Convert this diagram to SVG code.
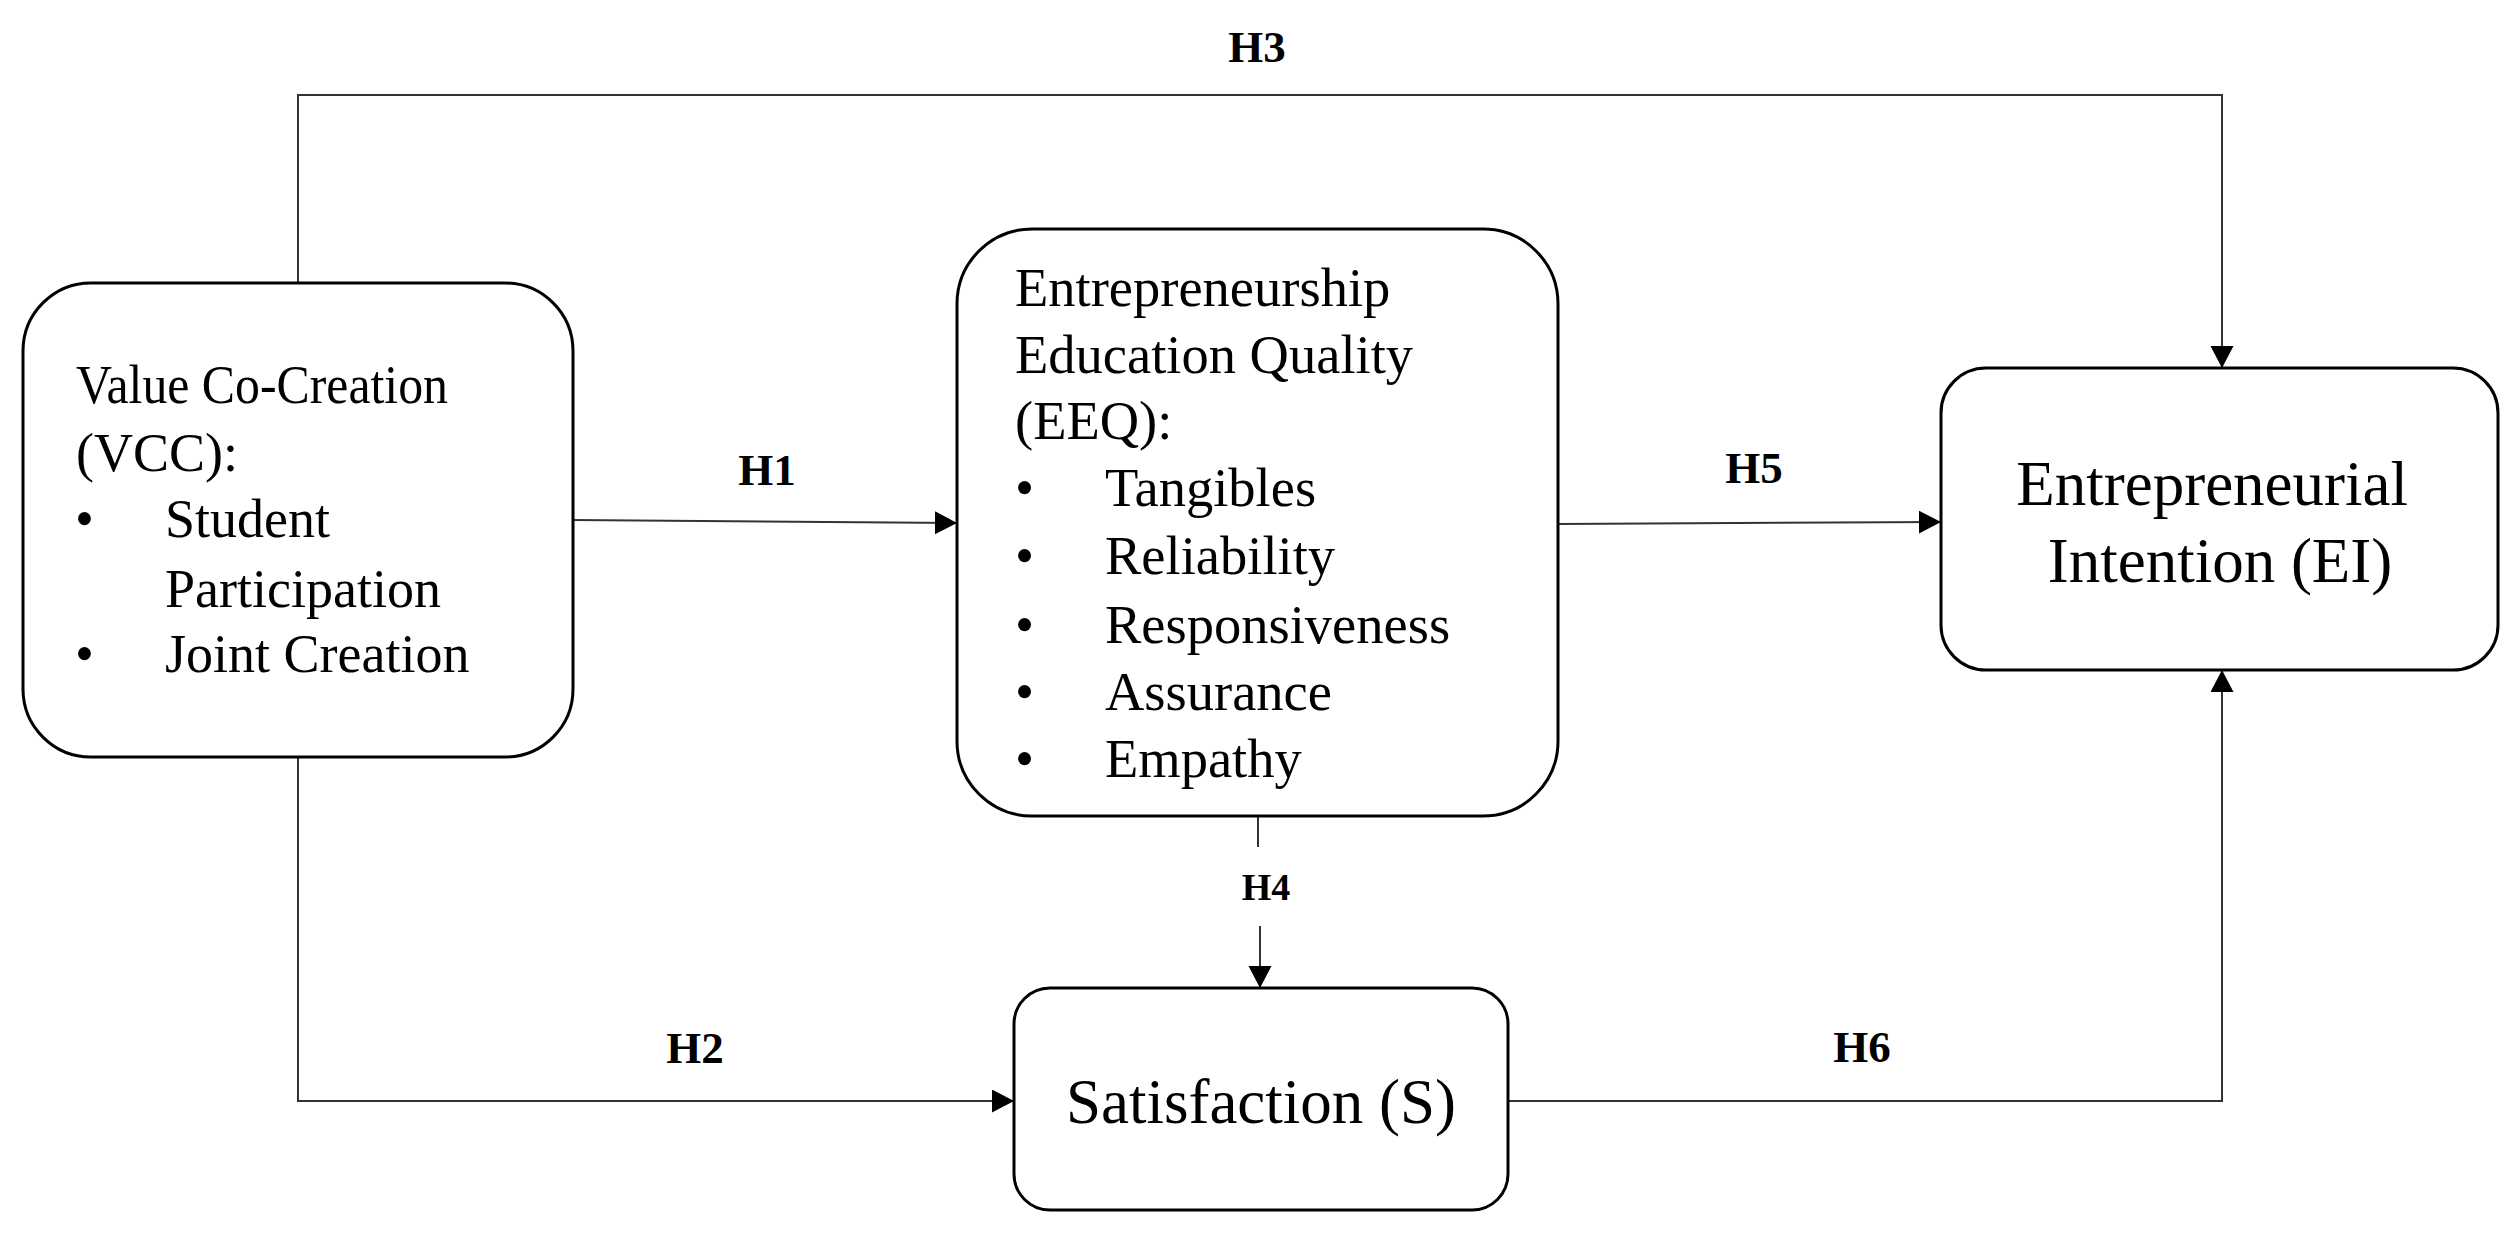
<svg xmlns="http://www.w3.org/2000/svg" width="2517" height="1235" viewBox="0 0 2517 1235">
<style>
.box{fill:#fff;stroke:#000;stroke-width:3}
.t{font-family:"Liberation Serif","Times New Roman",serif;fill:#000}
.lbl{font-family:"Liberation Serif","Times New Roman",serif;font-weight:bold;fill:#000;text-anchor:middle}
.ln{fill:none;stroke:#333;stroke-width:2}
</style>
<defs>
<marker id="ah" markerUnits="userSpaceOnUse" markerWidth="24" markerHeight="24" refX="22" refY="11.5" orient="auto" viewBox="0 0 24 24">
<path d="M0,0 L22,11.5 L0,23 z" fill="#000"/>
</marker>
</defs>
<rect width="2517" height="1235" fill="#fff"/>
<g id="connectors">
<path class="ln" d="M298,283 V95 H2222 V368" marker-end="url(#ah)"/>
<path class="ln" d="M573,520 L957,523" marker-end="url(#ah)"/>
<path class="ln" d="M1558,524 L1941,522" marker-end="url(#ah)"/>
<path class="ln" d="M298,757 V1101 H1014" marker-end="url(#ah)"/>
<path class="ln" d="M1258,816 V847"/>
<path class="ln" d="M1260,926 V988" marker-end="url(#ah)"/>
<path class="ln" d="M1508,1101 H2222 V670" marker-end="url(#ah)"/>
<text class="lbl" x="1257" y="62" font-size="45">H3</text>
<text class="lbl" x="767" y="485" font-size="45">H1</text>
<text class="lbl" x="1754" y="483" font-size="45">H5</text>
<text class="lbl" x="695" y="1063" font-size="45">H2</text>
<text class="lbl" x="1862" y="1062" font-size="45">H6</text>
<text class="lbl" x="1266" y="900" font-size="38">H4</text>
</g>
<g id="vcc">
<rect class="box" x="23" y="283" width="550" height="474" rx="68" ry="68"/>
<text class="t" font-size="54">
<tspan x="76" y="403" textLength="372" lengthAdjust="spacingAndGlyphs">Value Co-Creation</tspan>
<tspan x="76" y="471">(VCC):</tspan>
<tspan x="75" y="537">•</tspan><tspan x="165" y="537">Student</tspan>
<tspan x="165" y="607">Participation</tspan>
<tspan x="75" y="672">•</tspan><tspan x="165" y="672">Joint Creation</tspan>
</text>
</g>
<g id="eeq">
<rect class="box" x="957" y="229" width="601" height="587" rx="75" ry="75"/>
<text class="t" font-size="54.5">
<tspan x="1015" y="306">Entrepreneurship</tspan>
<tspan x="1015" y="373">Education Quality</tspan>
<tspan x="1015" y="439">(EEQ):</tspan>
<tspan x="1015" y="506">•</tspan><tspan x="1105" y="506">Tangibles</tspan>
<tspan x="1015" y="574">•</tspan><tspan x="1105" y="574">Reliability</tspan>
<tspan x="1015" y="643">•</tspan><tspan x="1105" y="643">Responsiveness</tspan>
<tspan x="1015" y="710">•</tspan><tspan x="1105" y="710">Assurance</tspan>
<tspan x="1015" y="777">•</tspan><tspan x="1105" y="777">Empathy</tspan>
</text>
</g>
<g id="ei">
<rect class="box" x="1941" y="368" width="557" height="302" rx="45" ry="45"/>
<text class="t" font-size="63" text-anchor="middle">
<tspan x="2220" y="505">Entrepreneurial</tspan>
<tspan x="2220" y="582">Intention (EI)</tspan>
</text>
</g>
<g id="s">
<rect class="box" x="1014" y="988" width="494" height="222" rx="36" ry="36"/>
<text class="t" font-size="63" text-anchor="middle" x="1261" y="1123">Satisfaction (S)</text>
</g>
</svg>
